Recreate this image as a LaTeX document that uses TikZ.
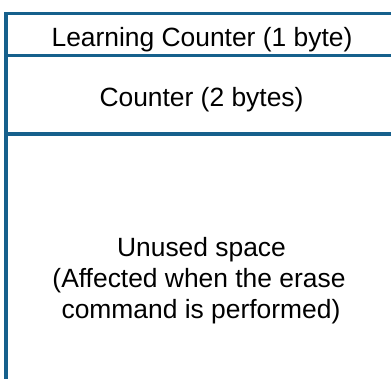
\documentclass[tikz,border=0pt]{standalone}
\usepackage{fontspec}
\setmainfont{Liberation Sans}
\definecolor{frameblue}{RGB}{22,96,140}
\begin{document}
\begin{tikzpicture}[x=1bp,y=-1bp,
  rule/.style={draw=frameblue,line width=3.5bp},
  label/.style={font=\fontsize{26.4bp}{31bp}\selectfont,text=black,inner sep=0pt,anchor=base}]
\useasboundingbox (0,0) rectangle (391,379);
% frame corners and separators
\coordinate (tl) at (6,13.5);
\coordinate (tr) at (392,13.5);
\coordinate (bl) at (6,380);
\coordinate (s1l) at (6,55.5);
\coordinate (s1r) at (392,55.5);
\coordinate (s2l) at (6,134);
\coordinate (s2r) at (392,134);
\draw[rule] (bl) -- (tl) -- (tr);
\draw[rule] (s1l) -- (s1r);
\draw[rule] (s2l) -- (s2r);
% field labels
\node[label] (learn) at (202,46) {Learning Counter (1 byte)};
\node[label] (count) at (201.5,106) {Counter (2 bytes)};
\node[label] (unused1) at (201.5,256) {Unused space};
\node[label] (unused2) at (199,287) {(Affected when the erase};
\node[label] (unused3) at (201,318) {command is performed)};
\end{tikzpicture}
\end{document}
